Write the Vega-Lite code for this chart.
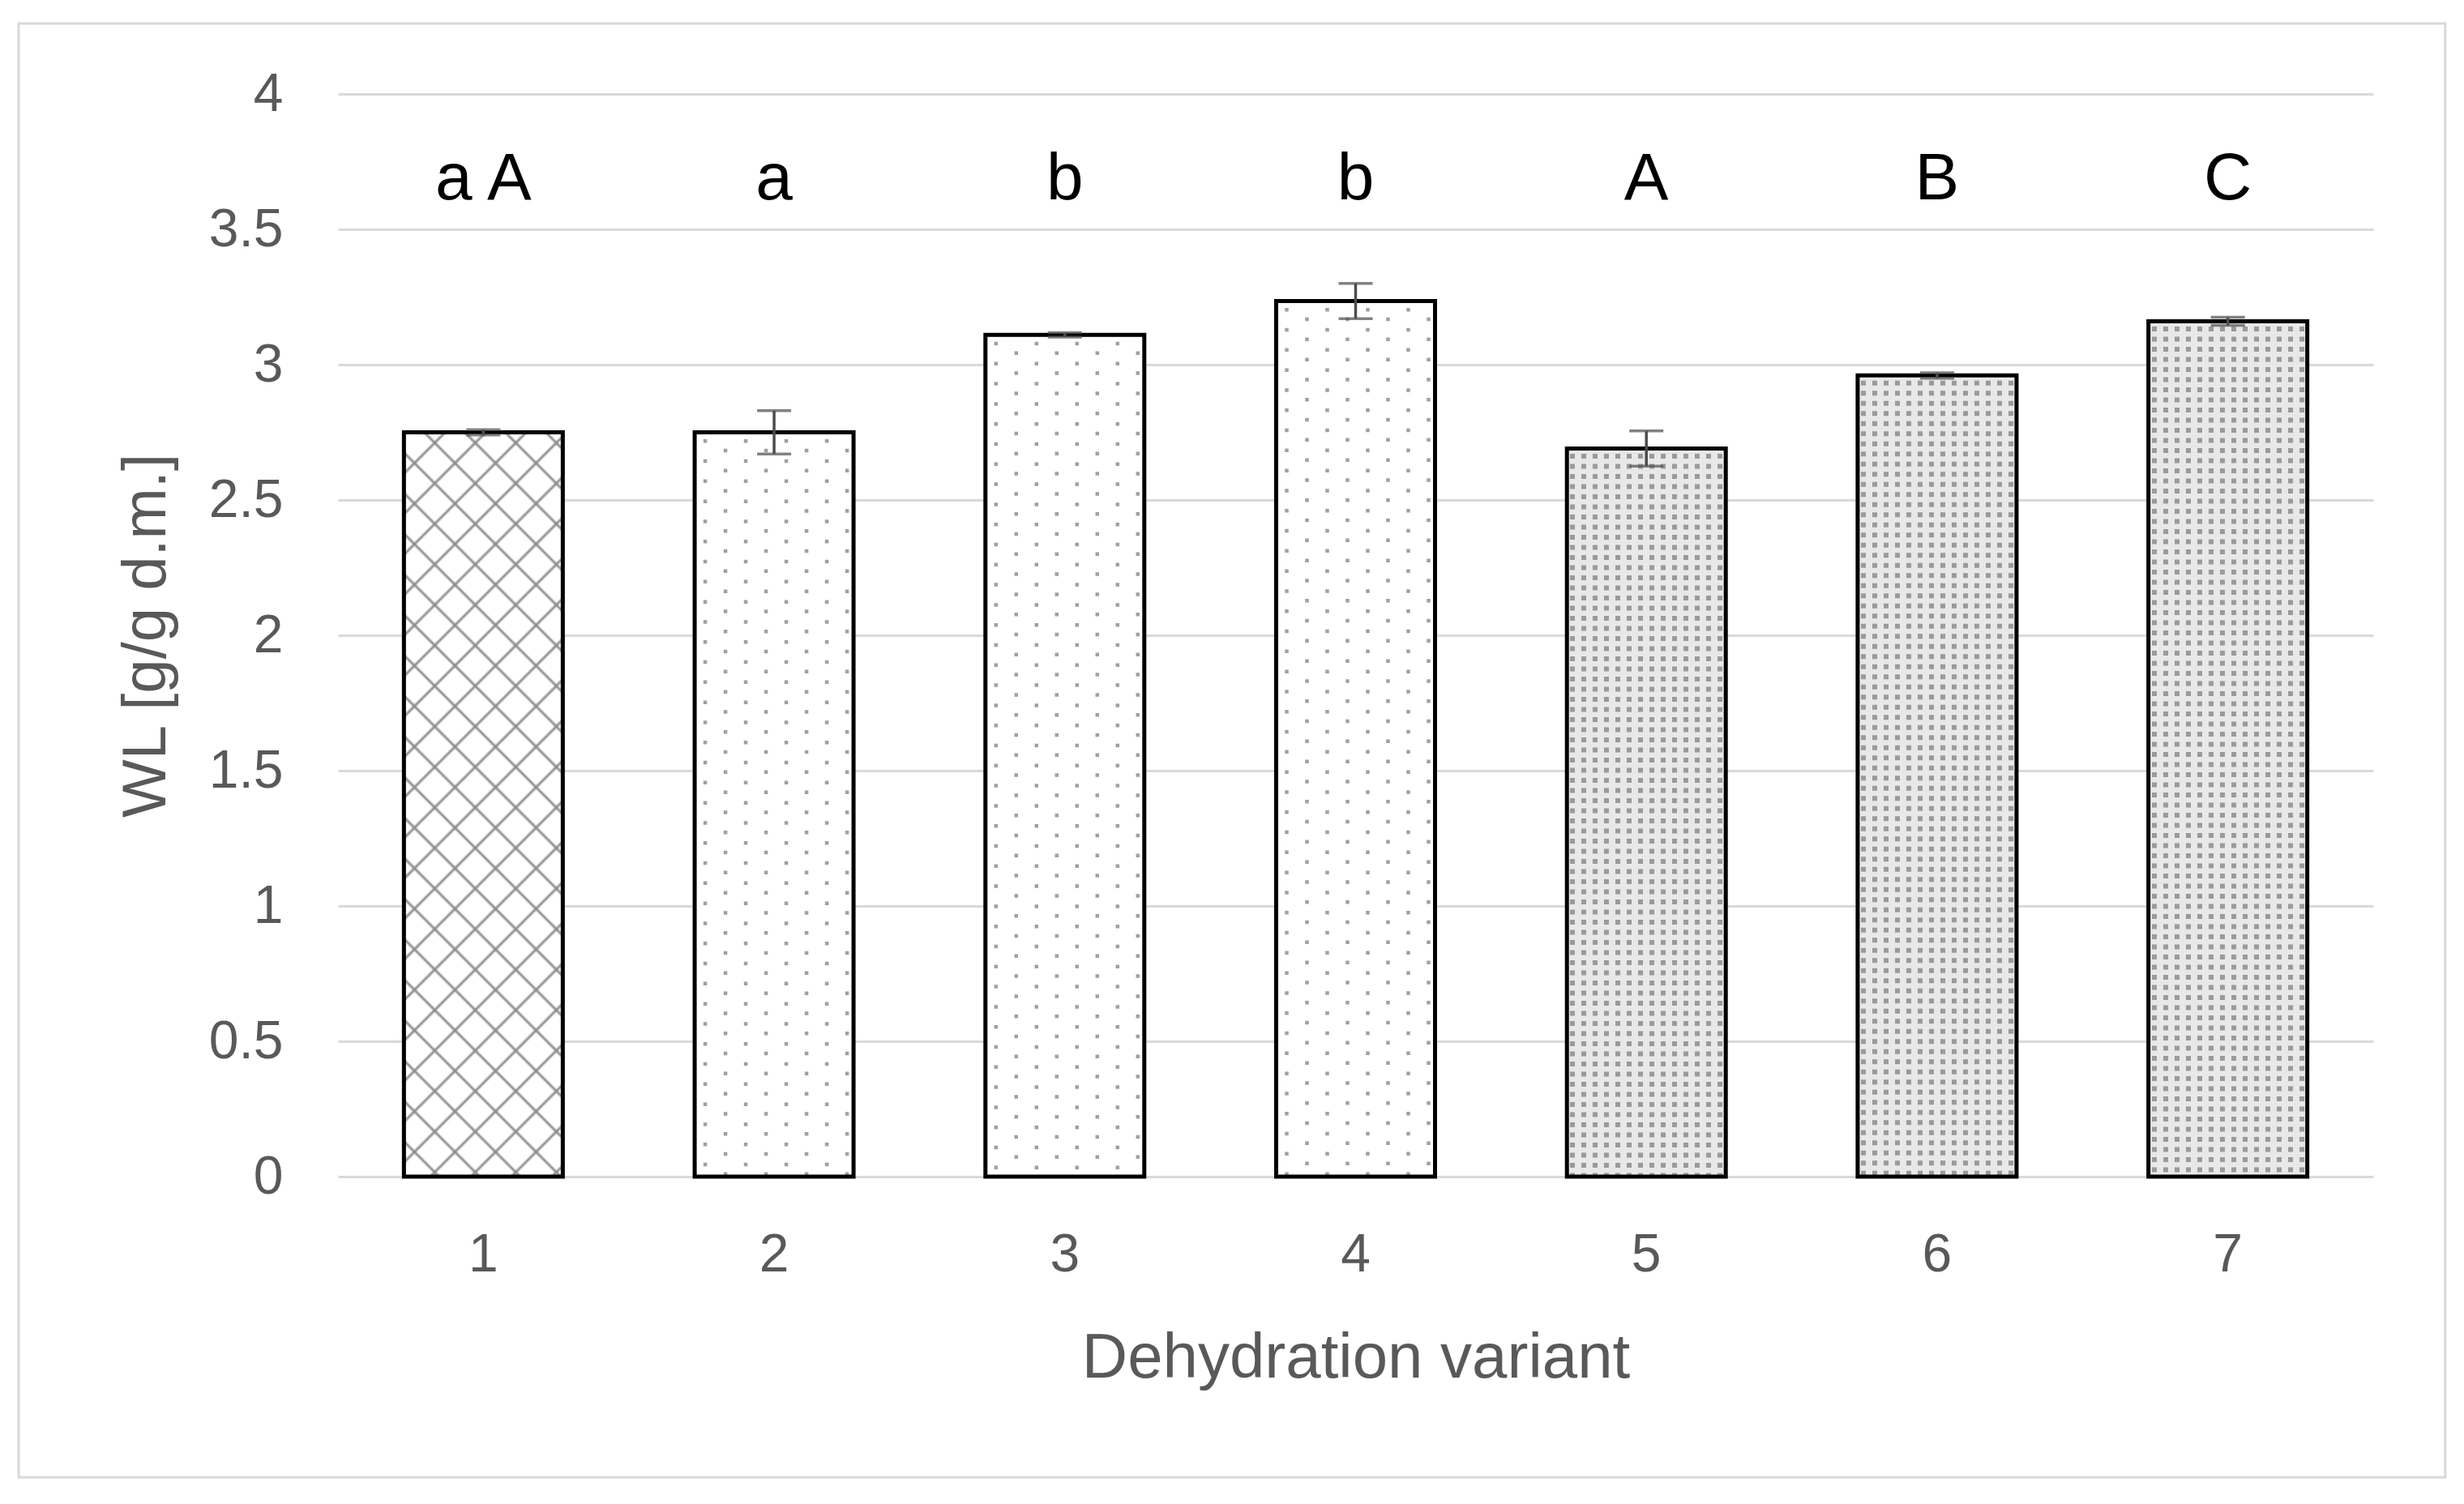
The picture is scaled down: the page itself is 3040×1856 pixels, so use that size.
{
  "$schema": "https://vega.github.io/schema/vega-lite/v6.json",
  "width": 2511,
  "height": 1336,
  "autosize": "none",
  "padding": {"left": 417, "top": 116, "right": 112, "bottom": 404},
  "background": "#ffffff",
  "config": {
    "view": {"stroke": null},
    "axis": {"labelFont": "Liberation Sans", "titleFont": "Liberation Sans"}
  },
  "data": {
    "values": [
      {"v": "1", "value": 2.75, "lo": 2.74, "hi": 2.76, "lab": "a A", "pat": "cross"},
      {"v": "2", "value": 2.75, "lo": 2.67, "hi": 2.83, "lab": "a", "pat": "sparse"},
      {"v": "3", "value": 3.11, "lo": 3.102, "hi": 3.118, "lab": "b", "pat": "sparse"},
      {"v": "4", "value": 3.235, "lo": 3.17, "hi": 3.3, "lab": "b", "pat": "sparse"},
      {"v": "5", "value": 2.69, "lo": 2.625, "hi": 2.755, "lab": "A", "pat": "dense"},
      {"v": "6", "value": 2.96, "lo": 2.95, "hi": 2.97, "lab": "B", "pat": "dense"},
      {"v": "7", "value": 3.16, "lo": 3.145, "hi": 3.175, "lab": "C", "pat": "dense"}
    ]
  },
  "resolve": {"scale": {"x": "independent", "y": "independent"}},
  "layer": [
    {
      "transform": [{"filter": "datum.v=='1'"}],
      "mark": {"type": "rect", "fill": "transparent", "stroke": "#d9d9d9", "strokeWidth": 3, "clip": false},
      "encoding": {
        "x": {"datum": -0.1569, "type": "quantitative", "scale": {"domain": [0, 1], "nice": false, "zero": false}, "axis": null},
        "x2": {"datum": 1.0354},
        "y": {"datum": 1.0651, "type": "quantitative", "scale": {"domain": [0, 1], "nice": false, "zero": false}, "axis": null},
        "y2": {"datum": -0.2777}
      }
    },
    {
      "encoding": {
        "x": {
          "field": "v", "type": "nominal",
          "scale": {"paddingInner": 0.454, "paddingOuter": 0.227},
          "title": "Dehydration variant",
          "axis": {"labelAngle": 0, "labelFontSize": 66, "labelColor": "#595959", "labelPadding": 64, "ticks": false, "domain": false, "grid": false, "titleFontSize": 78, "titleColor": "#595959", "titleFontWeight": "normal", "titlePadding": 56}
        }
      },
      "layer": [
        {
          "transform": [{"filter": "datum.pat!='dense'"}],
          "mark": {"type": "bar", "width": 196, "fill": "#ffffff", "strokeWidth": 0},
          "encoding": {
            "y": {
              "field": "value", "type": "quantitative",
              "scale": {"domain": [0, 4], "nice": false},
              "title": "WL [g/g d.m.]",
              "axis": {"values": [0, 0.5, 1, 1.5, 2, 2.5, 3, 3.5, 4], "format": "~g", "grid": true, "gridColor": "#d9d9d9", "gridWidth": 3, "domain": false, "ticks": false, "labelPadding": 68, "labelFontSize": 66, "labelColor": "#595959", "titleFontSize": 76, "titleColor": "#595959", "titleFontWeight": "normal", "titlePadding": 38}
            }
          }
        },
        {
          "transform": [{"filter": "datum.pat=='dense'"}],
          "mark": {"type": "bar", "width": 196, "strokeWidth": 0, "fill": {"gradient": "linear", "x1": 0, "y1": 0, "x2": 1, "y2": 0, "stops": [
            {"offset": 0, "color": "#e8e8e8"},
            {"offset": 0.020408, "color": "#e8e8e8"}, {"offset": 0.020408, "color": "#9a9a9a"}, {"offset": 0.05102, "color": "#9a9a9a"}, {"offset": 0.05102, "color": "#e8e8e8"},
            {"offset": 0.091837, "color": "#e8e8e8"}, {"offset": 0.091837, "color": "#9a9a9a"}, {"offset": 0.122449, "color": "#9a9a9a"}, {"offset": 0.122449, "color": "#e8e8e8"},
            {"offset": 0.163265, "color": "#e8e8e8"}, {"offset": 0.163265, "color": "#9a9a9a"}, {"offset": 0.193878, "color": "#9a9a9a"}, {"offset": 0.193878, "color": "#e8e8e8"},
            {"offset": 0.234694, "color": "#e8e8e8"}, {"offset": 0.234694, "color": "#9a9a9a"}, {"offset": 0.265306, "color": "#9a9a9a"}, {"offset": 0.265306, "color": "#e8e8e8"},
            {"offset": 0.306122, "color": "#e8e8e8"}, {"offset": 0.306122, "color": "#9a9a9a"}, {"offset": 0.336735, "color": "#9a9a9a"}, {"offset": 0.336735, "color": "#e8e8e8"},
            {"offset": 0.377551, "color": "#e8e8e8"}, {"offset": 0.377551, "color": "#9a9a9a"}, {"offset": 0.408163, "color": "#9a9a9a"}, {"offset": 0.408163, "color": "#e8e8e8"},
            {"offset": 0.44898, "color": "#e8e8e8"}, {"offset": 0.44898, "color": "#9a9a9a"}, {"offset": 0.479592, "color": "#9a9a9a"}, {"offset": 0.479592, "color": "#e8e8e8"},
            {"offset": 0.520408, "color": "#e8e8e8"}, {"offset": 0.520408, "color": "#9a9a9a"}, {"offset": 0.55102, "color": "#9a9a9a"}, {"offset": 0.55102, "color": "#e8e8e8"},
            {"offset": 0.591837, "color": "#e8e8e8"}, {"offset": 0.591837, "color": "#9a9a9a"}, {"offset": 0.622449, "color": "#9a9a9a"}, {"offset": 0.622449, "color": "#e8e8e8"},
            {"offset": 0.663265, "color": "#e8e8e8"}, {"offset": 0.663265, "color": "#9a9a9a"}, {"offset": 0.693878, "color": "#9a9a9a"}, {"offset": 0.693878, "color": "#e8e8e8"},
            {"offset": 0.734694, "color": "#e8e8e8"}, {"offset": 0.734694, "color": "#9a9a9a"}, {"offset": 0.765306, "color": "#9a9a9a"}, {"offset": 0.765306, "color": "#e8e8e8"},
            {"offset": 0.806122, "color": "#e8e8e8"}, {"offset": 0.806122, "color": "#9a9a9a"}, {"offset": 0.836735, "color": "#9a9a9a"}, {"offset": 0.836735, "color": "#e8e8e8"},
            {"offset": 0.877551, "color": "#e8e8e8"}, {"offset": 0.877551, "color": "#9a9a9a"}, {"offset": 0.908163, "color": "#9a9a9a"}, {"offset": 0.908163, "color": "#e8e8e8"},
            {"offset": 0.94898, "color": "#e8e8e8"}, {"offset": 0.94898, "color": "#9a9a9a"}, {"offset": 0.979592, "color": "#9a9a9a"}, {"offset": 0.979592, "color": "#e8e8e8"},
            {"offset": 1, "color": "#e8e8e8"}
          ]}},
          "encoding": {"y": {"field": "value", "type": "quantitative", "title": "WL [g/g d.m.]"}}
        },
        {
          "transform": [{"filter": "datum.pat=='dense'"}],
          "mark": {"type": "rule", "strokeWidth": 196, "strokeDash": [6.5, 6], "color": "#e8e8e8", "strokeCap": "butt"},
          "encoding": {"y": {"field": "value", "type": "quantitative", "title": "WL [g/g d.m.]"}, "y2": {"datum": 0}}
        },
        {
          "transform": [{"filter": "datum.pat=='cross'"}],
          "mark": {"type": "bar", "width": 196, "strokeWidth": 0, "fill": {"gradient": "linear", "x1": 0, "y1": 0, "x2": 1, "y2": 4.6862, "stops": [
            {"offset": 0, "color": "rgba(138,138,138,0)"},
            {"offset": 0.010433, "color": "rgba(138,138,138,0)"}, {"offset": 0.011333, "color": "#8a8a8a"}, {"offset": 0.012233, "color": "rgba(138,138,138,0)"},
            {"offset": 0.021543, "color": "rgba(138,138,138,0)"}, {"offset": 0.022443, "color": "#8a8a8a"}, {"offset": 0.023343, "color": "rgba(138,138,138,0)"},
            {"offset": 0.032654, "color": "rgba(138,138,138,0)"}, {"offset": 0.033554, "color": "#8a8a8a"}, {"offset": 0.034454, "color": "rgba(138,138,138,0)"},
            {"offset": 0.043764, "color": "rgba(138,138,138,0)"}, {"offset": 0.044664, "color": "#8a8a8a"}, {"offset": 0.045564, "color": "rgba(138,138,138,0)"},
            {"offset": 0.054875, "color": "rgba(138,138,138,0)"}, {"offset": 0.055775, "color": "#8a8a8a"}, {"offset": 0.056675, "color": "rgba(138,138,138,0)"},
            {"offset": 0.065985, "color": "rgba(138,138,138,0)"}, {"offset": 0.066885, "color": "#8a8a8a"}, {"offset": 0.067785, "color": "rgba(138,138,138,0)"},
            {"offset": 0.077096, "color": "rgba(138,138,138,0)"}, {"offset": 0.077996, "color": "#8a8a8a"}, {"offset": 0.078896, "color": "rgba(138,138,138,0)"},
            {"offset": 0.088206, "color": "rgba(138,138,138,0)"}, {"offset": 0.089106, "color": "#8a8a8a"}, {"offset": 0.090006, "color": "rgba(138,138,138,0)"},
            {"offset": 0.099317, "color": "rgba(138,138,138,0)"}, {"offset": 0.100217, "color": "#8a8a8a"}, {"offset": 0.101117, "color": "rgba(138,138,138,0)"},
            {"offset": 0.110427, "color": "rgba(138,138,138,0)"}, {"offset": 0.111327, "color": "#8a8a8a"}, {"offset": 0.112227, "color": "rgba(138,138,138,0)"},
            {"offset": 0.121538, "color": "rgba(138,138,138,0)"}, {"offset": 0.122438, "color": "#8a8a8a"}, {"offset": 0.123338, "color": "rgba(138,138,138,0)"},
            {"offset": 0.132648, "color": "rgba(138,138,138,0)"}, {"offset": 0.133548, "color": "#8a8a8a"}, {"offset": 0.134448, "color": "rgba(138,138,138,0)"},
            {"offset": 0.143759, "color": "rgba(138,138,138,0)"}, {"offset": 0.144659, "color": "#8a8a8a"}, {"offset": 0.145559, "color": "rgba(138,138,138,0)"},
            {"offset": 0.154869, "color": "rgba(138,138,138,0)"}, {"offset": 0.155769, "color": "#8a8a8a"}, {"offset": 0.156669, "color": "rgba(138,138,138,0)"},
            {"offset": 0.16598, "color": "rgba(138,138,138,0)"}, {"offset": 0.16688, "color": "#8a8a8a"}, {"offset": 0.16778, "color": "rgba(138,138,138,0)"},
            {"offset": 0.17709, "color": "rgba(138,138,138,0)"}, {"offset": 0.17799, "color": "#8a8a8a"}, {"offset": 0.17889, "color": "rgba(138,138,138,0)"},
            {"offset": 0.188201, "color": "rgba(138,138,138,0)"}, {"offset": 0.189101, "color": "#8a8a8a"}, {"offset": 0.190001, "color": "rgba(138,138,138,0)"},
            {"offset": 0.199311, "color": "rgba(138,138,138,0)"}, {"offset": 0.200211, "color": "#8a8a8a"}, {"offset": 0.201111, "color": "rgba(138,138,138,0)"},
            {"offset": 0.210422, "color": "rgba(138,138,138,0)"}, {"offset": 0.211322, "color": "#8a8a8a"}, {"offset": 0.212222, "color": "rgba(138,138,138,0)"},
            {"offset": 0.221532, "color": "rgba(138,138,138,0)"}, {"offset": 0.222432, "color": "#8a8a8a"}, {"offset": 0.223332, "color": "rgba(138,138,138,0)"},
            {"offset": 0.232643, "color": "rgba(138,138,138,0)"}, {"offset": 0.233543, "color": "#8a8a8a"}, {"offset": 0.234443, "color": "rgba(138,138,138,0)"},
            {"offset": 0.243753, "color": "rgba(138,138,138,0)"}, {"offset": 0.244653, "color": "#8a8a8a"}, {"offset": 0.245553, "color": "rgba(138,138,138,0)"},
            {"offset": 1, "color": "rgba(138,138,138,0)"}
          ]}},
          "encoding": {"y": {"field": "value", "type": "quantitative", "title": "WL [g/g d.m.]"}}
        },
        {
          "transform": [{"filter": "datum.pat=='cross'"}],
          "mark": {"type": "bar", "width": 196, "strokeWidth": 0, "fill": {"gradient": "linear", "x1": 0, "y1": 1, "x2": 1, "y2": -3.6862, "stops": [
            {"offset": 0, "color": "rgba(138,138,138,0)"},
            {"offset": 0.008766, "color": "rgba(138,138,138,0)"}, {"offset": 0.009666, "color": "#8a8a8a"}, {"offset": 0.010566, "color": "rgba(138,138,138,0)"},
            {"offset": 0.019877, "color": "rgba(138,138,138,0)"}, {"offset": 0.020777, "color": "#8a8a8a"}, {"offset": 0.021677, "color": "rgba(138,138,138,0)"},
            {"offset": 0.030987, "color": "rgba(138,138,138,0)"}, {"offset": 0.031887, "color": "#8a8a8a"}, {"offset": 0.032787, "color": "rgba(138,138,138,0)"},
            {"offset": 0.042098, "color": "rgba(138,138,138,0)"}, {"offset": 0.042998, "color": "#8a8a8a"}, {"offset": 0.043898, "color": "rgba(138,138,138,0)"},
            {"offset": 0.053208, "color": "rgba(138,138,138,0)"}, {"offset": 0.054108, "color": "#8a8a8a"}, {"offset": 0.055008, "color": "rgba(138,138,138,0)"},
            {"offset": 0.064319, "color": "rgba(138,138,138,0)"}, {"offset": 0.065219, "color": "#8a8a8a"}, {"offset": 0.066119, "color": "rgba(138,138,138,0)"},
            {"offset": 0.075429, "color": "rgba(138,138,138,0)"}, {"offset": 0.076329, "color": "#8a8a8a"}, {"offset": 0.077229, "color": "rgba(138,138,138,0)"},
            {"offset": 0.08654, "color": "rgba(138,138,138,0)"}, {"offset": 0.08744, "color": "#8a8a8a"}, {"offset": 0.08834, "color": "rgba(138,138,138,0)"},
            {"offset": 0.09765, "color": "rgba(138,138,138,0)"}, {"offset": 0.09855, "color": "#8a8a8a"}, {"offset": 0.09945, "color": "rgba(138,138,138,0)"},
            {"offset": 0.108761, "color": "rgba(138,138,138,0)"}, {"offset": 0.109661, "color": "#8a8a8a"}, {"offset": 0.110561, "color": "rgba(138,138,138,0)"},
            {"offset": 0.119871, "color": "rgba(138,138,138,0)"}, {"offset": 0.120771, "color": "#8a8a8a"}, {"offset": 0.121671, "color": "rgba(138,138,138,0)"},
            {"offset": 0.130982, "color": "rgba(138,138,138,0)"}, {"offset": 0.131882, "color": "#8a8a8a"}, {"offset": 0.132782, "color": "rgba(138,138,138,0)"},
            {"offset": 0.142092, "color": "rgba(138,138,138,0)"}, {"offset": 0.142992, "color": "#8a8a8a"}, {"offset": 0.143892, "color": "rgba(138,138,138,0)"},
            {"offset": 0.153203, "color": "rgba(138,138,138,0)"}, {"offset": 0.154103, "color": "#8a8a8a"}, {"offset": 0.155003, "color": "rgba(138,138,138,0)"},
            {"offset": 0.164313, "color": "rgba(138,138,138,0)"}, {"offset": 0.165213, "color": "#8a8a8a"}, {"offset": 0.166113, "color": "rgba(138,138,138,0)"},
            {"offset": 0.175424, "color": "rgba(138,138,138,0)"}, {"offset": 0.176324, "color": "#8a8a8a"}, {"offset": 0.177224, "color": "rgba(138,138,138,0)"},
            {"offset": 0.186534, "color": "rgba(138,138,138,0)"}, {"offset": 0.187434, "color": "#8a8a8a"}, {"offset": 0.188334, "color": "rgba(138,138,138,0)"},
            {"offset": 0.197645, "color": "rgba(138,138,138,0)"}, {"offset": 0.198545, "color": "#8a8a8a"}, {"offset": 0.199445, "color": "rgba(138,138,138,0)"},
            {"offset": 0.208755, "color": "rgba(138,138,138,0)"}, {"offset": 0.209655, "color": "#8a8a8a"}, {"offset": 0.210555, "color": "rgba(138,138,138,0)"},
            {"offset": 0.219866, "color": "rgba(138,138,138,0)"}, {"offset": 0.220766, "color": "#8a8a8a"}, {"offset": 0.221666, "color": "rgba(138,138,138,0)"},
            {"offset": 0.230976, "color": "rgba(138,138,138,0)"}, {"offset": 0.231876, "color": "#8a8a8a"}, {"offset": 0.232776, "color": "rgba(138,138,138,0)"},
            {"offset": 0.242087, "color": "rgba(138,138,138,0)"}, {"offset": 0.242987, "color": "#8a8a8a"}, {"offset": 0.243887, "color": "rgba(138,138,138,0)"},
            {"offset": 1, "color": "rgba(138,138,138,0)"}
          ]}},
          "encoding": {"y": {"field": "value", "type": "quantitative", "title": "WL [g/g d.m.]"}}
        },
        {
          "transform": [{"filter": "datum.pat=='sparse'"}],
          "mark": {"type": "rule", "xOffset": -85, "strokeWidth": 4.5, "strokeDash": [4.5, 20.3], "strokeDashOffset": 16.3, "color": "#a0a0a0", "strokeCap": "butt"},
          "encoding": {"y": {"field": "value", "type": "quantitative", "title": "WL [g/g d.m.]"}, "y2": {"datum": 0}}
        },
        {
          "transform": [{"filter": "datum.pat=='sparse'"}],
          "mark": {"type": "rule", "xOffset": -60, "strokeWidth": 4.5, "strokeDash": [4.5, 20.3], "strokeDashOffset": 4.5, "color": "#a0a0a0", "strokeCap": "butt"},
          "encoding": {"y": {"field": "value", "type": "quantitative", "title": "WL [g/g d.m.]"}, "y2": {"datum": 0}}
        },
        {
          "transform": [{"filter": "datum.pat=='sparse'"}],
          "mark": {"type": "rule", "xOffset": -35, "strokeWidth": 4.5, "strokeDash": [4.5, 20.3], "strokeDashOffset": 16.3, "color": "#a0a0a0", "strokeCap": "butt"},
          "encoding": {"y": {"field": "value", "type": "quantitative", "title": "WL [g/g d.m.]"}, "y2": {"datum": 0}}
        },
        {
          "transform": [{"filter": "datum.pat=='sparse'"}],
          "mark": {"type": "rule", "xOffset": -10, "strokeWidth": 4.5, "strokeDash": [4.5, 20.3], "strokeDashOffset": 4.5, "color": "#a0a0a0", "strokeCap": "butt"},
          "encoding": {"y": {"field": "value", "type": "quantitative", "title": "WL [g/g d.m.]"}, "y2": {"datum": 0}}
        },
        {
          "transform": [{"filter": "datum.pat=='sparse'"}],
          "mark": {"type": "rule", "xOffset": 15, "strokeWidth": 4.5, "strokeDash": [4.5, 20.3], "strokeDashOffset": 16.3, "color": "#a0a0a0", "strokeCap": "butt"},
          "encoding": {"y": {"field": "value", "type": "quantitative", "title": "WL [g/g d.m.]"}, "y2": {"datum": 0}}
        },
        {
          "transform": [{"filter": "datum.pat=='sparse'"}],
          "mark": {"type": "rule", "xOffset": 40, "strokeWidth": 4.5, "strokeDash": [4.5, 20.3], "strokeDashOffset": 4.5, "color": "#a0a0a0", "strokeCap": "butt"},
          "encoding": {"y": {"field": "value", "type": "quantitative", "title": "WL [g/g d.m.]"}, "y2": {"datum": 0}}
        },
        {
          "transform": [{"filter": "datum.pat=='sparse'"}],
          "mark": {"type": "rule", "xOffset": 65, "strokeWidth": 4.5, "strokeDash": [4.5, 20.3], "strokeDashOffset": 16.3, "color": "#a0a0a0", "strokeCap": "butt"},
          "encoding": {"y": {"field": "value", "type": "quantitative", "title": "WL [g/g d.m.]"}, "y2": {"datum": 0}}
        },
        {
          "transform": [{"filter": "datum.pat=='sparse'"}],
          "mark": {"type": "rule", "xOffset": 90, "strokeWidth": 4.5, "strokeDash": [4.5, 20.3], "strokeDashOffset": 4.5, "color": "#a0a0a0", "strokeCap": "butt"},
          "encoding": {"y": {"field": "value", "type": "quantitative", "title": "WL [g/g d.m.]"}, "y2": {"datum": 0}}
        },
        {
          "mark": {"type": "bar", "width": 196, "fill": "transparent", "stroke": "#000000", "strokeWidth": 5},
          "encoding": {"y": {"field": "value", "type": "quantitative", "title": "WL [g/g d.m.]"}}
        },
        {
          "mark": {"type": "rule", "color": "#4d4d4d", "strokeWidth": 3.5},
          "encoding": {"y": {"field": "lo", "type": "quantitative", "title": "WL [g/g d.m.]"}, "y2": {"field": "hi"}}
        },
        {
          "mark": {"type": "tick", "color": "#4d4d4d", "size": 42, "thickness": 3.5},
          "encoding": {"y": {"field": "lo", "type": "quantitative", "title": "WL [g/g d.m.]"}}
        },
        {
          "mark": {"type": "tick", "color": "#4d4d4d", "size": 42, "thickness": 3.5},
          "encoding": {"y": {"field": "hi", "type": "quantitative", "title": "WL [g/g d.m.]"}}
        },
        {
          "mark": {"type": "text", "font": "Liberation Sans", "fontSize": 82, "color": "#000000", "baseline": "alphabetic", "align": "center"},
          "encoding": {"y": {"datum": 3.61, "type": "quantitative", "title": "WL [g/g d.m.]"}, "text": {"field": "lab"}}
        }
      ]
    }
  ]
}
